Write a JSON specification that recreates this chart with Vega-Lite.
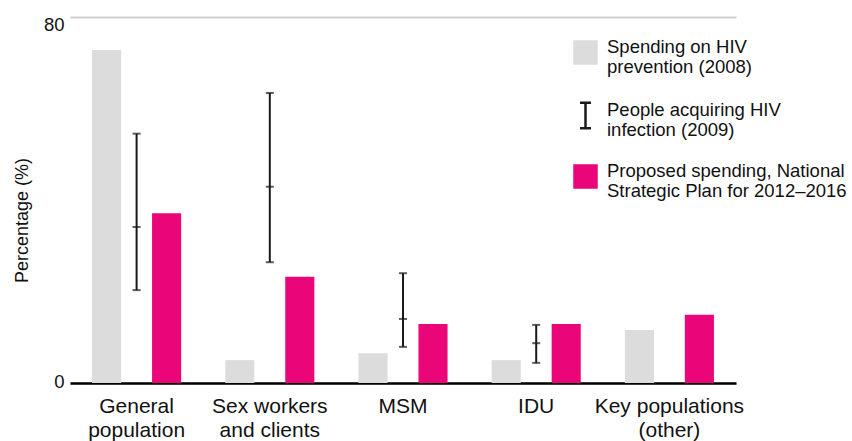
{
  "$schema": "https://vega.github.io/schema/vega-lite/v6.json",
  "width": 666,
  "height": 366,
  "autosize": "none",
  "padding": {"left": 70, "top": 17, "right": 116, "bottom": 58},
  "background": "white",
  "config": {
    "view": {"stroke": null},
    "font": "Liberation Sans",
    "axis": {"labelColor": "#111", "titleColor": "#111", "titleFontWeight": "normal"}
  },
  "datasets": {
    "bars": [
      {"group": "General population", "series": "gray", "value": 72.8},
      {"group": "General population", "series": "pink", "value": 37.1},
      {"group": "Sex workers and clients", "series": "gray", "value": 5.0},
      {"group": "Sex workers and clients", "series": "pink", "value": 23.2},
      {"group": "MSM", "series": "gray", "value": 6.5},
      {"group": "MSM", "series": "pink", "value": 12.9},
      {"group": "IDU", "series": "gray", "value": 5.0},
      {"group": "IDU", "series": "pink", "value": 12.9},
      {"group": "Key populations (other)", "series": "gray", "value": 11.6},
      {"group": "Key populations (other)", "series": "pink", "value": 14.9}
    ],
    "err": [
      {"group": "General population", "series": "err", "low": 20.3, "mid": 34.1, "high": 54.5},
      {"group": "Sex workers and clients", "series": "err", "low": 26.4, "mid": 42.9, "high": 63.4},
      {"group": "MSM", "series": "err", "low": 7.9, "mid": 14.0, "high": 24.0},
      {"group": "IDU", "series": "err", "low": 4.4, "mid": 8.7, "high": 12.7}
    ]
  },
  "layer": [
    {
      "data": {"name": "bars"},
      "mark": {"type": "bar"},
      "encoding": {
        "x": {
          "field": "group", "type": "nominal",
          "scale": {"domain": ["General population", "Sex workers and clients", "MSM", "IDU", "Key populations (other)"], "paddingInner": 0, "paddingOuter": 0},
          "axis": {
            "title": null, "labelAngle": 0, "ticks": false, "domainColor": "#000", "domainWidth": 2.5,
            "labelFontSize": 21, "labelPadding": 12, "labelBaseline": "top", "labelLineHeight": 24, "labelLimit": 300,
            "labelExpr": "datum.value === 'General population' ? ['General','population'] : datum.value === 'Sex workers and clients' ? ['Sex workers','and clients'] : datum.value === 'Key populations (other)' ? ['Key populations','(other)'] : datum.value"
          }
        },
        "xOffset": {"field": "series", "scale": {"domain": ["gray", "err", "pink"], "paddingInner": 0.03, "paddingOuter": 0.735}},
        "y": {
          "field": "value", "type": "quantitative",
          "scale": {"domain": [0, 80]},
          "axis": {
            "values": [0, 80], "grid": true, "gridColor": "#cfcfcf", "gridWidth": 2, "domain": false, "ticks": false,
            "labelFontSize": 18.5, "labelPadding": 6,
            "labelOffset": {"condition": {"test": "datum.value === 80", "value": 7}, "value": -2},
            "title": "Percentage (%)", "titleFontSize": 18, "titlePadding": 12, "titleY": 203
          }
        },
        "color": {
          "field": "series", "type": "nominal",
          "scale": {"domain": ["gray", "err", "pink"], "range": ["#dcdcdc", "#1a1a1a", "#ea0678"]},
          "legend": {
            "orient": "none", "legendX": 503, "legendY": 23, "title": null, "padding": 0,
            "symbolSize": 484, "labelFontSize": 18.5, "labelColor": "#111", "labelLimit": 400, "labelOffset": 9,
            "labelLineHeight": 22, "labelBaseline": "alphabetic", "rowPadding": 20,
            "labelExpr": "datum.value === 'gray' ? ['Spending on HIV','prevention (2008)'] : datum.value === 'err' ? ['People acquiring HIV','infection (2009)'] : ['Proposed spending, National','Strategic Plan for 2012–2016']",
            "encode": {
              "symbols": {
                "update": {
                  "shape": {"signal": "datum.value === 'err' ? 'M-0.5,-1.15H0.5M0,-1.15V1.15M-0.5,1.15H0.5' : 'square'"},
                  "fill": {"signal": "datum.value === 'err' ? 'transparent' : datum.value === 'gray' ? '#dcdcdc' : '#ea0678'"},
                  "stroke": {"signal": "datum.value === 'err' ? '#1a1a1a' : 'transparent'"},
                  "strokeWidth": {"value": 2.5},
                  "opacity": {"value": 1}
                }
              }
            }
          }
        }
      }
    },
    {
      "data": {"name": "err"},
      "mark": {"type": "rule", "strokeWidth": 2},
      "encoding": {
        "x": {"field": "group", "type": "nominal"},
        "xOffset": {"field": "series"},
        "y": {"field": "low", "type": "quantitative"},
        "y2": {"field": "high"},
        "color": {"field": "series", "type": "nominal"}
      }
    },
    {
      "data": {"name": "err"},
      "transform": [{"fold": ["low", "mid", "high"], "as": ["k", "v"]}],
      "mark": {"type": "tick", "thickness": 2, "size": 8},
      "encoding": {
        "x": {"field": "group", "type": "nominal"},
        "xOffset": {"field": "series"},
        "y": {"field": "v", "type": "quantitative"},
        "color": {"field": "series", "type": "nominal"}
      }
    }
  ]
}
